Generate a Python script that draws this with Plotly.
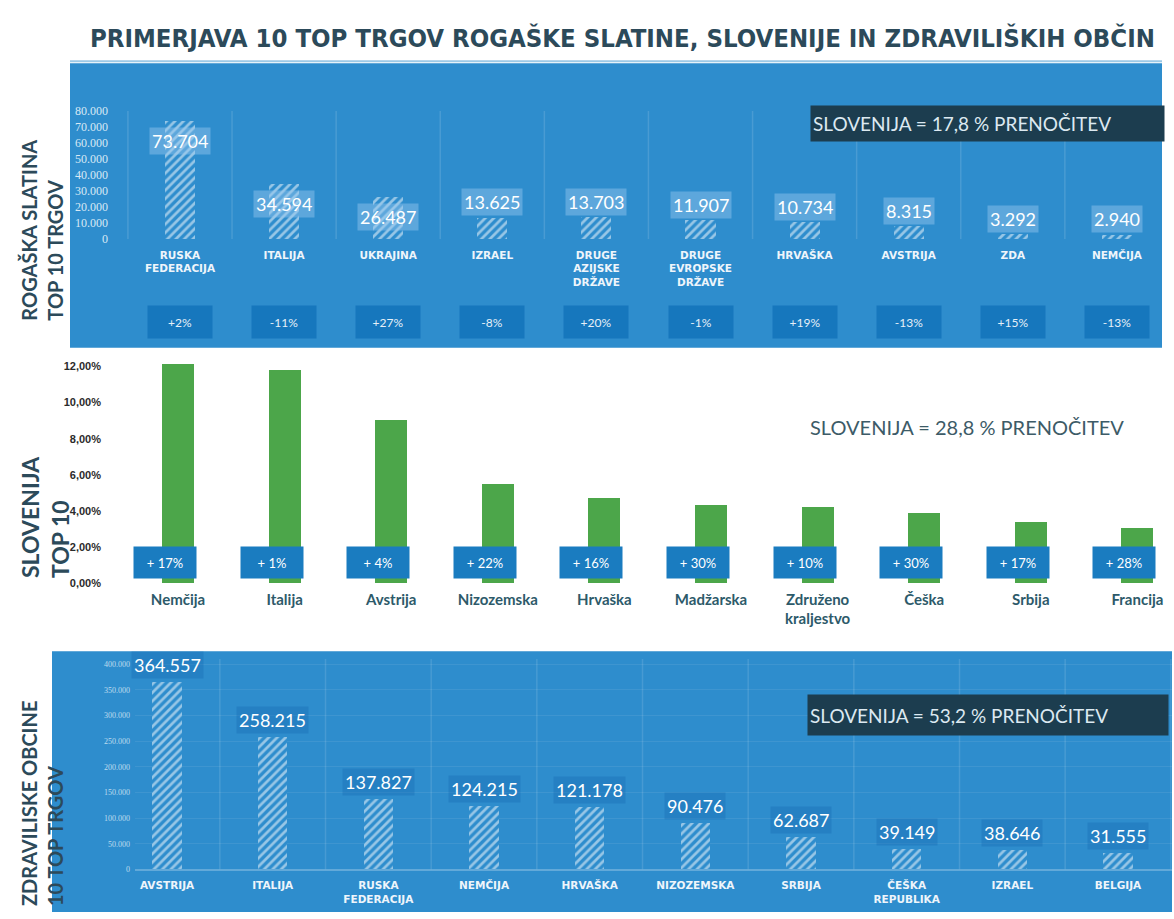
import plotly.graph_objects as go

W, H = 1174, 919

# --- Rogaška Slatina: top 10 markets (overnight stays) ---
top_countries = ["RUSKA<br>FEDERACIJA", "ITALIJA", "UKRAJINA", "IZRAEL",
                 "DRUGE<br>AZIJSKE<br>DRŽAVE", "DRUGE<br>EVROPSKE<br>DRŽAVE",
                 "HRVAŠKA", "AVSTRIJA", "ZDA", "NEMČIJA"]
top_nights = [73704, 34594, 26487, 13625, 13703, 11907, 10734, 8315, 3292, 2940]
top_change = ["+2%", "-11%", "+27%", "-8%", "+20%", "-1%", "+19%", "-13%", "+15%", "-13%"]
top_ticks = [0, 10000, 20000, 30000, 40000, 50000, 60000, 70000, 80000]

# --- Slovenija: top 10 markets (share of overnight stays, %) ---
mid_countries = ["Nemčija", "Italija", "Avstrija", "Nizozemska", "Hrvaška",
                 "Madžarska", "Združeno<br>kraljestvo", "Češka", "Srbija", "Francija"]
mid_share = [12.14, 11.85, 9.03, 5.49, 4.71, 4.34, 4.21, 3.88, 3.41, 3.06]
mid_change = ["+ 17%", "+ 1%", "+ 4%", "+ 22%", "+ 16%", "+ 30%", "+ 10%", "+ 30%", "+ 17%", "+ 28%"]
mid_ticks = [0, 2, 4, 6, 8, 10, 12]
mid_ticktext = ["0,00%", "2,00%", "4,00%", "6,00%", "8,00%", "10,00%", "12,00%"]

# --- Zdraviliške občine: top 10 markets (overnight stays) ---
bot_countries = ["AVSTRIJA", "ITALIJA", "RUSKA<br>FEDERACIJA", "NEMČIJA", "HRVAŠKA",
                 "NIZOZEMSKA", "SRBIJA", "ČEŠKA<br>REPUBLIKA", "IZRAEL", "BELGIJA"]
bot_nights = [364557, 258215, 137827, 124215, 121178, 90476, 62687, 39149, 38646, 31555]
bot_ticks = [0, 50000, 100000, 150000, 200000, 250000, 300000, 350000, 400000]

share_notes = ["SLOVENIJA = 17,8 % PRENOČITEV",
               "SLOVENIJA = 28,8 % PRENOČITEV",
               "SLOVENIJA = 53,2 % PRENOČITEV"]
panel_titles = ["ROGAŠKA SLATINA<br>TOP 10 TRGOV",
                "SLOVENIJA<br>TOP 10",
                "ZDRAVILISKE OBCINE<br>10 TOP TRGOV"]
title_text = "PRIMERJAVA 10 TOP TRGOV ROGAŠKE SLATINE, SLOVENIJE IN ZDRAVILIŠKIH OBČIN"

PANEL_BLUE = "#2e8dcd"
DARK_BOX = "#1c3d4f"
SLATE = "#2c4a5a"
GREEN = "#4ca64a"
CHANGE_BLUE = "#1a7cc0"
LIGHT_FONT = "Lato, Open Sans, sans-serif"
BOLD_FONT = "Lato, Noto Sans, sans-serif"


def px(x):
    return x / W


def py(y):
    return 1 - y / H


def dotted(v):
    return f"{v:,}".replace(",", ".")


idx = list(range(10))
fig = go.Figure()

# ---------- bars ----------
fig.add_trace(go.Bar(
    x=idx, y=top_nights, width=0.29, xaxis="x", yaxis="y",
    marker=dict(color=PANEL_BLUE, line=dict(width=0),
                pattern=dict(shape="/", fgcolor="white", size=6, solidity=0.45)),
    hoverinfo="skip", showlegend=False))

fig.add_trace(go.Bar(
    x=idx, y=mid_share, width=0.3, xaxis="x2", yaxis="y2",
    marker=dict(color=GREEN, line=dict(width=0)),
    hoverinfo="skip", showlegend=False))

fig.add_trace(go.Bar(
    x=idx, y=bot_nights, width=0.28, xaxis="x3", yaxis="y3",
    marker=dict(color=PANEL_BLUE, line=dict(width=0),
                pattern=dict(shape="/", fgcolor="white", size=6, solidity=0.45)),
    hoverinfo="skip", showlegend=False))

shapes = []
annotations = []

# ---------- panel backgrounds ----------
shapes.append(dict(type="rect", xref="paper", yref="paper", layer="below",
                   x0=px(70), x1=px(1162), y0=py(348), y1=py(60),
                   fillcolor=PANEL_BLUE, line=dict(width=0)))
shapes.append(dict(type="rect", xref="paper", yref="paper", layer="below",
                   x0=px(52), x1=px(1172), y0=py(919), y1=py(655),
                   fillcolor=PANEL_BLUE, line=dict(width=0)))
# thin rule under the headline
shapes.append(dict(type="line", xref="paper", yref="paper", layer="below",
                   x0=px(70), x1=px(1162), y0=py(58), y1=py(58),
                   line=dict(color="#9cc9e6", width=2)))

# column separators inside the blue panels
for i in range(-1, 10):
    shapes.append(dict(type="line", xref="x", yref="y", layer="below",
                       x0=i + 0.5, x1=i + 0.5, y0=0, y1=80000,
                       line=dict(color="rgba(255,255,255,0.13)", width=1.5)))
    shapes.append(dict(type="line", xref="x3", yref="y3", layer="below",
                       x0=i + 0.5, x1=i + 0.5, y0=0, y1=410000,
                       line=dict(color="rgba(255,255,255,0.12)", width=1.5)))

# ---------- headline ----------
annotations.append(dict(
    xref="paper", yref="paper", x=px(622), y=py(34), xanchor="center", yanchor="middle",
    text=title_text, showarrow=False,
    font=dict(family="DejaVu Sans Condensed, sans-serif",
              size=25.5, color=SLATE, weight="bold")))

# ---------- rotated panel titles ----------
for txt, xc, ybot, fs in zip(panel_titles, [42, 45, 42], [323, 583, 915], [20, 23, 20]):
    annotations.append(dict(
        xref="paper", yref="paper", x=px(xc), y=py(ybot), xanchor="center", yanchor="bottom",
        text=txt, textangle=-90, showarrow=False, align="left",
        font=dict(family=BOLD_FONT, size=fs, color=SLATE, weight="bold")))

# ---------- top panel labels ----------
for i, v in enumerate(top_nights):
    inside = v > 20000
    annotations.append(dict(
        xref="x", yref="y", x=i, y=v, xanchor="center",
        yanchor="top" if inside else "bottom", yshift=-6 if inside else 1,
        text=dotted(v), showarrow=False,
        bgcolor="rgba(150,200,240,0.45)", borderpad=2,
        font=dict(family=LIGHT_FONT, size=18, color="white")))
for i, c in enumerate(top_change):
    annotations.append(dict(
        xref="x", yref="paper", x=i, y=py(322), xanchor="center", yanchor="middle",
        text=c, showarrow=False, width=62, height=30,
        bgcolor="#1677bd", font=dict(family=LIGHT_FONT, size=12, color="#e6f0f8")))

annotations.append(dict(
    xref="paper", yref="paper", x=px(987), y=py(121), xanchor="center", yanchor="middle",
    text=share_notes[0], showarrow=False, width=349, height=31, align="left",
    bgcolor=DARK_BOX, borderpad=2,
    font=dict(family=LIGHT_FONT, size=19, color="#dce9f1")))

# ---------- middle panel labels ----------
for i, c in enumerate(mid_change):
    annotations.append(dict(
        xref="x2", yref="paper", x=i, y=py(565), xshift=-13, xanchor="center", yanchor="middle",
        text=c, showarrow=False, width=60, height=29,
        bgcolor=CHANGE_BLUE, font=dict(family=LIGHT_FONT, size=13, color="white")))

annotations.append(dict(
    xref="paper", yref="paper", x=px(808), y=py(428), xanchor="left", yanchor="middle",
    text=share_notes[1], showarrow=False,
    font=dict(family=LIGHT_FONT, size=20, color="#3d5b67")))

# ---------- bottom panel labels ----------
for i, v in enumerate(bot_nights):
    annotations.append(dict(
        xref="x3", yref="y3", x=i, y=v, xanchor="center", yanchor="bottom", yshift=3,
        text=dotted(v), showarrow=False,
        bgcolor="rgba(25,110,180,0.40)", borderpad=2,
        font=dict(family=LIGHT_FONT, size=18, color="white")))

annotations.append(dict(
    xref="paper", yref="paper", x=px(988), y=py(720), xanchor="center", yanchor="middle",
    text=share_notes[2], showarrow=False, width=356, height=36, align="left",
    bgcolor=DARK_BOX, borderpad=2,
    font=dict(family=LIGHT_FONT, size=19, color="#dce9f1")))

# ---------- axes ----------
cat_font_white = dict(family="DejaVu Sans, sans-serif", size=10.5, color="#eef5fb", weight="bold")

fig.update_layout(
    width=W, height=H,
    margin=dict(l=0, r=0, t=0, b=0),
    paper_bgcolor="white", plot_bgcolor="rgba(0,0,0,0)",
    separators=",.",
    bargap=0, showlegend=False,
    shapes=shapes, annotations=annotations,
    xaxis=dict(domain=[px(112), px(1162)], range=[-0.653, 9.433],
               tickvals=idx, ticktext=top_countries, tickfont=cat_font_white,
               showgrid=False, zeroline=False, showline=False, ticks="",
               ticklabelstandoff=8, fixedrange=True),
    yaxis=dict(domain=[py(238), py(105)], range=[0, 82000], anchor="x",
               tickvals=top_ticks, tickformat=",d",
               tickfont=dict(family="Liberation Serif, serif", size=12, color="#d9e9f5"),
               showgrid=False, zeroline=False, showline=False, ticks="",
               ticklabelstandoff=3, fixedrange=True),
    xaxis2=dict(domain=[px(110), px(1174)], range=[-0.638, 9.343], anchor="y2",
                tickvals=idx, ticktext=mid_countries,
                tickfont=dict(family=BOLD_FONT, size=15, color="#2d5a6a", weight="bold"),
                showgrid=False, zeroline=False, showline=False, ticks="",
                ticklabelstandoff=6, fixedrange=True),
    yaxis2=dict(domain=[py(586), py(360)], range=[0, 12.38], anchor="x2",
                tickvals=mid_ticks, ticktext=mid_ticktext,
                tickfont=dict(family="Liberation Sans, Arial, sans-serif", size=11,
                              color="#2b2b2b", weight="bold"),
                showgrid=False, zeroline=False, showline=False, ticks="",
                ticklabelstandoff=8, fixedrange=True),
    xaxis3=dict(domain=[px(135), px(1172)], range=[-0.303, 9.511], anchor="y3",
                tickvals=idx, ticktext=bot_countries, tickfont=cat_font_white,
                showgrid=False, zeroline=False, showline=False, ticks="",
                ticklabelstandoff=8, fixedrange=True),
    yaxis3=dict(domain=[py(876), py(663)], range=[0, 410000], anchor="x3",
                tickvals=bot_ticks, tickformat=",d",
                tickfont=dict(family="Liberation Serif, serif", size=8, color="rgba(235,245,252,0.75)"),
                showgrid=True, gridcolor="rgba(255,255,255,0.08)",
                zeroline=True, zerolinecolor="rgba(255,255,255,0.25)",
                showline=False, ticks="", ticklabelstandoff=4, fixedrange=True),
)

fig.write_html("out.html")
